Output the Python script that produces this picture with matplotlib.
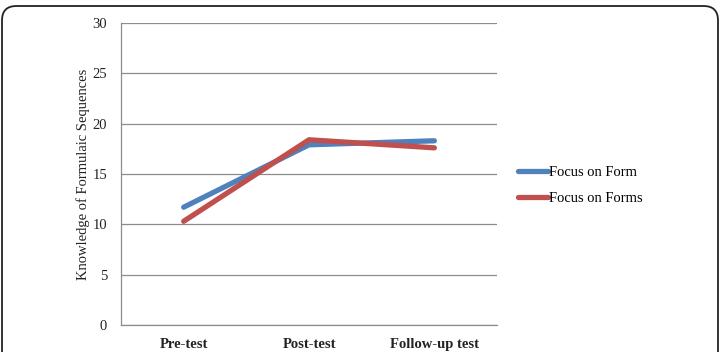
import matplotlib.pyplot as plt
from matplotlib.patches import FancyBboxPatch

categories = ['Pre-test', 'Post-test', 'Follow-up test']
focus_on_form = [11.7, 17.9, 18.3]
focus_on_forms = [10.3, 18.4, 17.6]
yticks = [0, 5, 10, 15, 20, 25, 30]

plt.rcParams['font.family'] = ['Liberation Serif', 'DejaVu Serif']

fig = plt.figure(figsize=(7.21, 3.52), dpi=100)
ax = fig.add_axes([121/721, 1-325/352, 376/721, 302/352])

x = range(len(categories))
ax.plot(x, focus_on_form, color='#4F81BD', lw=3.8, solid_capstyle='round', label='Focus on Form')
ax.plot(x, focus_on_forms, color='#C0504D', lw=3.8, solid_capstyle='round', label='Focus on Forms')

ax.set_xlim(-0.5, 2.5)
ax.set_ylim(0, 30)
ax.set_yticks(yticks)
ax.set_xticks(list(x))
ax.set_xticklabels(categories, fontweight='bold', color='#333333')
ax.tick_params(axis='both', length=0, labelsize=10.5, colors='#222222')
ax.tick_params(axis='y', pad=10)
ax.tick_params(axis='x', pad=9.5)
ax.grid(axis='y', color='#8c8c8c', lw=0.9)
ax.set_axisbelow(True)
for s in ['top', 'right']:
    ax.spines[s].set_visible(False)
for s in ['left', 'bottom']:
    ax.spines[s].set_color('#8c8c8c')
    ax.spines[s].set_linewidth(0.9)
ax.set_ylabel('Knowledge of Formulaic Sequences', fontsize=10.5, color='#222222', labelpad=2)

ax.legend(loc='center left', bbox_to_anchor=(1.02, 0.462), frameon=False, fontsize=10.5,
          handlelength=2.1, handletextpad=0.05, labelspacing=0.85)

frame = FancyBboxPatch((2/721, -0.05), 716/721, 1.05 - 6/352, transform=fig.transFigure,
                       boxstyle='round,pad=0,rounding_size=0.02', fill=False,
                       edgecolor='#222222', lw=1.3, mutation_aspect=721/352)
fig.patches.append(frame)

fig.savefig('out.png', dpi=100)
